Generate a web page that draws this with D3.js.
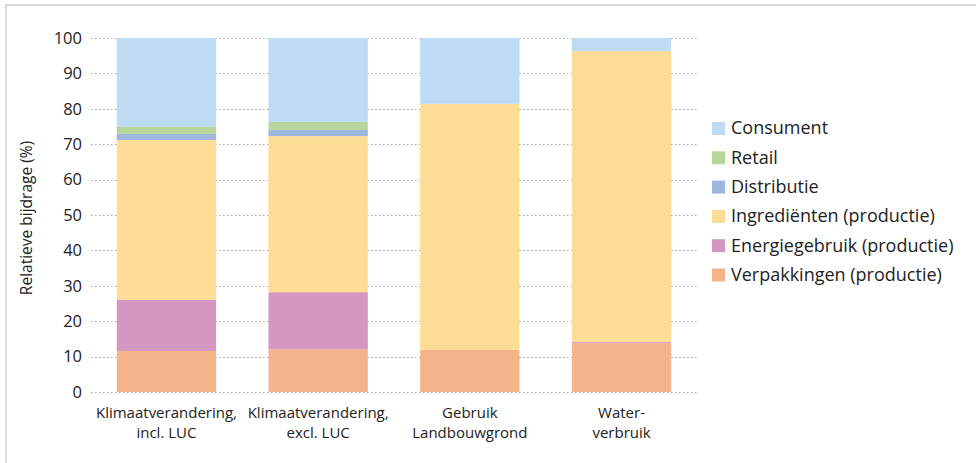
<!DOCTYPE html>
<html>
<head>
<meta charset="utf-8">
<script src="https://cdn.jsdelivr.net/npm/d3@7"></script>
<style>
  body { margin: 0; background: #fff; }
  text { font-family: "Open Sans", sans-serif; fill: #222; }
</style>
</head>
<body>
<script>
// data (percent of total)
var categories = [["Klimaatverandering,", "incl. LUC"], ["Klimaatverandering,", "excl. LUC"], ["Gebruik", "Landbouwgrond"], ["Water-", "verbruik"]];
var seriesNames = ["Verpakkingen (productie)", "Energiegebruik (productie)", "Ingrediënten (productie)", "Distributie", "Retail", "Consument"];
var verpakkingen = [11.6, 12.1, 11.9, 13.8];
var energiegebruik = [14.4, 16.1, 0, 0.3];
var ingredienten = [45.2, 44.1, 69.5, 82.2];
var distributie = [1.7, 1.7, 0, 0];
var retail = [2.0, 2.3, 0, 0];
var consument = [25.1, 23.7, 18.6, 3.7];
var yTicks = [0, 10, 20, 30, 40, 50, 60, 70, 80, 90, 100];

var colors = ["#f5b389", "#d397c2", "#fddc95", "#9db6e0", "#b8d69c", "#bddcf4"];
var values = [verpakkingen, energiegebruik, ingredienten, distributie, retail, consument];

var width = 976, height = 463;

var svg = d3.select("body").append("svg")
    .attr("width", width)
    .attr("height", height);

// light frame
svg.append("rect")
    .attr("x", 6).attr("y", 5)
    .attr("width", width + 10).attr("height", height + 10)
    .attr("fill", "none")
    .attr("stroke", "#dcdcdc")
    .attr("stroke-width", 2);

var rows = categories.map(function(c, i) {
    var r = {key: i};
    seriesNames.forEach(function(s, j) { r[s] = values[j][i]; });
    return r;
});

var stack = d3.stack().keys(seriesNames)(rows);

var x = d3.scaleBand()
    .domain(d3.range(categories.length))
    .range([91, 697])
    .paddingInner(0.345)
    .paddingOuter(0.17);

var y = d3.scaleLinear()
    .domain([0, 100])
    .range([392, 38]);

// dotted gridlines
svg.append("g")
    .selectAll("line")
    .data(yTicks)
    .enter().append("line")
    .attr("x1", 91).attr("x2", 697)
    .attr("y1", function(d) { return Math.round(y(d)) + 0.5; })
    .attr("y2", function(d) { return Math.round(y(d)) + 0.5; })
    .attr("stroke", "#a8a8a8")
    .attr("stroke-width", 1)
    .attr("stroke-dasharray", "1.5,2.5");

// y tick labels
svg.append("g")
    .selectAll("text")
    .data(yTicks)
    .enter().append("text")
    .attr("x", 82)
    .attr("y", function(d) { return y(d); })
    .attr("dy", "0.35em")
    .attr("text-anchor", "end")
    .style("font-size", "16.5px")
    .text(function(d) { return d; });

// y title
svg.append("text")
    .attr("transform", "translate(32," + 218 + ") rotate(-90)")
    .attr("text-anchor", "middle")
    .style("font-size", "15.5px")
    .text("Relatieve bijdrage (%)");

// stacked bars
svg.append("g")
    .selectAll("g")
    .data(stack)
    .enter().append("g")
    .attr("fill", function(d, i) { return colors[i]; })
    .selectAll("rect")
    .data(function(d) { return d; })
    .enter().append("rect")
    .attr("x", function(d) { return x(d.data.key); })
    .attr("width", x.bandwidth())
    .attr("y", function(d) { return y(d[1]); })
    .attr("height", function(d) { return y(d[0]) - y(d[1]); });

// x labels
var xl = svg.append("g")
    .selectAll("text")
    .data(categories)
    .enter().append("text")
    .attr("x", function(d, i) { return x(i) + x.bandwidth() / 2; })
    .attr("y", 418)
    .attr("text-anchor", "middle")
    .style("font-size", "15px");
xl.selectAll("tspan")
    .data(function(d) { return d; })
    .enter().append("tspan")
    .attr("x", function() { return d3.select(this.parentNode).attr("x"); })
    .attr("dy", function(d, i) { return i == 0 ? 0 : 20; })
    .text(function(d) { return d; });

// legend, Consument on top
var legendOrder = seriesNames.slice().reverse();
var legend = svg.append("g")
    .selectAll("g")
    .data(legendOrder)
    .enter().append("g")
    .attr("transform", function(d, i) { return "translate(712," + (128 + i * 29.3) + ")"; });

legend.append("rect")
    .attr("x", 0).attr("y", -6)
    .attr("width", 13).attr("height", 13)
    .attr("fill", function(d) { return colors[seriesNames.indexOf(d)]; });

legend.append("text")
    .attr("x", 19)
    .attr("y", 0)
    .attr("dy", "0.35em")
    .style("font-size", "18px")
    .text(function(d) { return d; });
</script>
</body>
</html>
